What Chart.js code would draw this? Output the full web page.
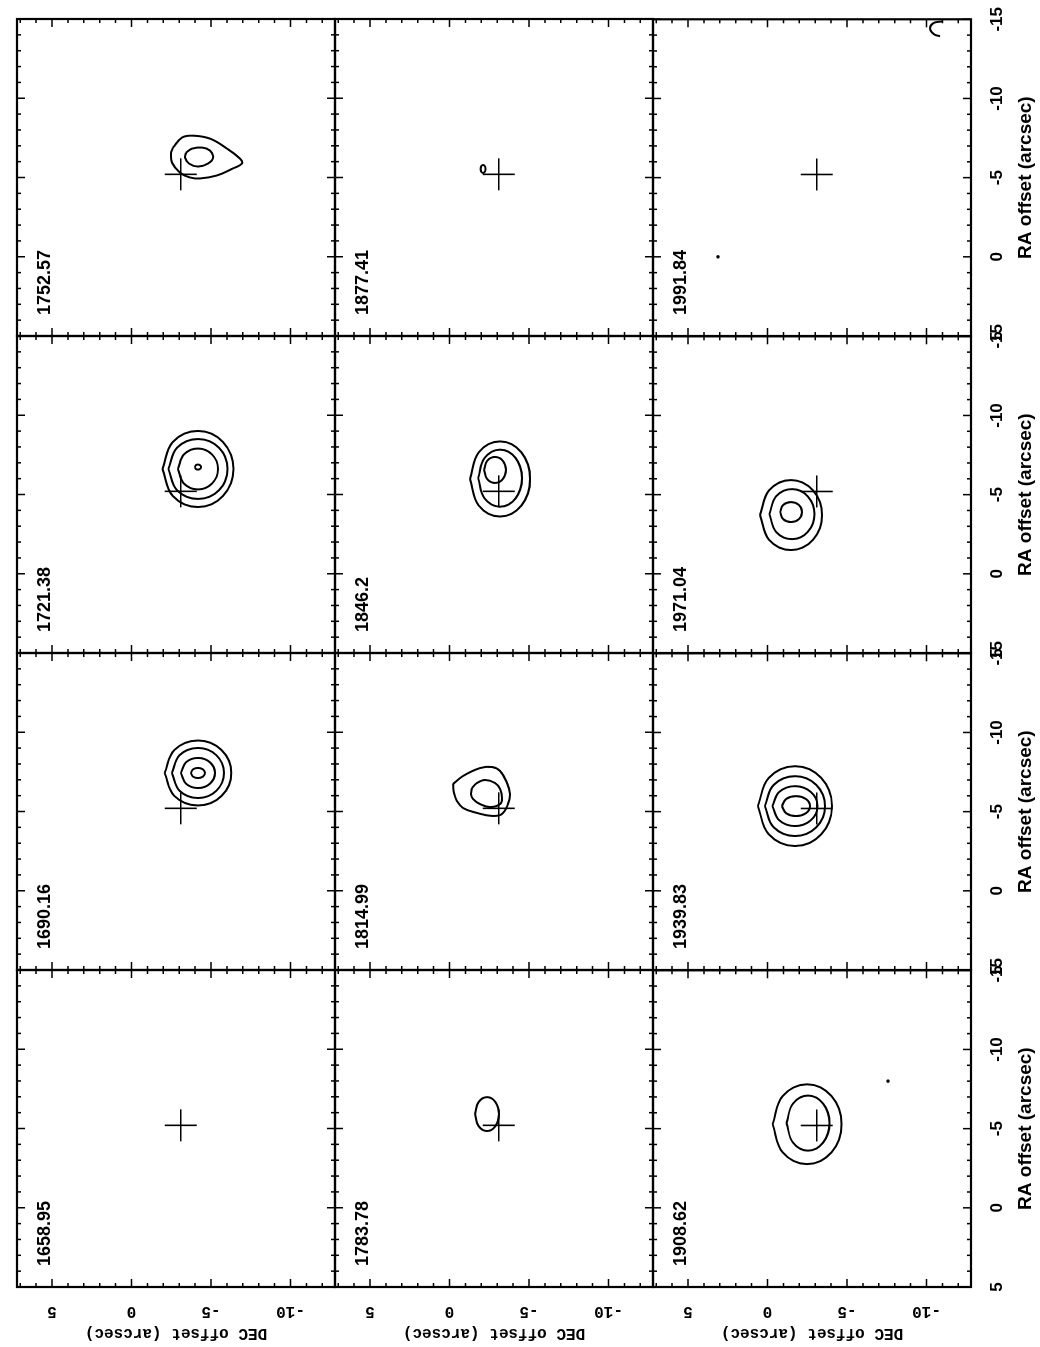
<!DOCTYPE html>
<html><head><meta charset="utf-8">
<script src="https://cdn.jsdelivr.net/npm/chart.js@4.4.0/dist/chart.umd.min.js"></script>
<style>
html,body{margin:0;padding:0;background:#fff;overflow:hidden;width:1040px;height:1347px;}
#page{position:absolute;left:0;top:0;width:1347px;height:1040px;transform-origin:0 0;transform:translate(0px,1347px) rotate(-90deg);background:#fff;}
#page canvas{position:absolute;}
</style></head><body><div id="page"></div>
<script>
// ---------------- DATA ----------------
const channels = ['1658.95','1690.16','1721.38','1752.57','1783.78','1814.99','1846.2','1877.41','1908.62','1939.83','1971.04','1991.84'];
const raTickLabels = [5, 0, -5, -10, -15];
const decTickLabels = [5, 0, -5, -10];
const sourceRA = [-5.2];
const sourceDEC = [-3.1];

// contours: arrays of [RA offset, DEC offset] (arcsec)
const c1658_95 = [];
const c1690_16 = [
  [[-7.43,-2.08],[-5.98,-2.70],[-5.38,-4.18],[-5.98,-5.66],[-7.43,-6.28],[-8.88,-5.66],[-9.48,-4.18],[-8.88,-2.70]],
  [[-7.43,-2.54],[-6.31,-3.02],[-5.85,-4.18],[-6.31,-5.34],[-7.43,-5.82],[-8.55,-5.34],[-9.01,-4.18],[-8.55,-3.02]],
  [[-7.43,-3.11],[-6.76,-3.42],[-6.48,-4.18],[-6.76,-4.94],[-7.43,-5.25],[-8.10,-4.94],[-8.38,-4.18],[-8.10,-3.42]],
  [[-7.43,-3.74],[-7.20,-3.87],[-7.11,-4.18],[-7.20,-4.49],[-7.43,-4.62],[-7.66,-4.49],[-7.75,-4.18],[-7.66,-3.87]]
];
const c1721_38 = [
  [[-6.61,-1.95],[-4.91,-2.60],[-4.21,-4.18],[-4.91,-5.76],[-6.61,-6.41],[-8.31,-5.76],[-9.01,-4.18],[-8.31,-2.60]],
  [[-6.61,-2.32],[-5.27,-2.86],[-4.72,-4.18],[-5.27,-5.50],[-6.61,-6.04],[-7.95,-5.50],[-8.50,-4.18],[-7.95,-2.86]],
  [[-6.61,-2.92],[-5.70,-3.29],[-5.32,-4.18],[-5.70,-5.07],[-6.61,-5.44],[-7.52,-5.07],[-7.90,-4.18],[-7.52,-3.29]],
  [[-6.73,-3.98],[-6.62,-4.04],[-6.57,-4.18],[-6.62,-4.32],[-6.73,-4.38],[-6.84,-4.32],[-6.89,-4.18],[-6.84,-4.04]]
];
const c1752_57 = [
  [[-6.89,-2.61],[-7.52,-3.18],[-7.64,-3.87],[-7.45,-4.94],[-6.82,-6.01],[-6.19,-6.83],[-5.88,-6.95],[-5.57,-6.38],[-5.13,-5.38],[-4.94,-4.31],[-5.00,-3.68],[-5.31,-3.05],[-5.94,-2.55],[-6.51,-2.49]],
  [[-6.57,-3.43],[-6.82,-3.81],[-6.89,-4.44],[-6.70,-4.94],[-6.26,-5.13],[-5.88,-4.81],[-5.69,-4.18],[-5.88,-3.62],[-6.26,-3.37]]
];
const c1783_78 = [
  [[-5.91,-1.61],[-5.15,-1.83],[-4.84,-2.36],[-5.15,-2.89],[-5.91,-3.11],[-6.67,-2.89],[-6.98,-2.36],[-6.67,-1.83]]
];
const c1814_99 = [
  [[-6.73,-0.22],[-7.24,-0.85],[-7.74,-1.92],[-7.81,-2.67],[-7.56,-3.18],[-6.80,-3.62],[-6.10,-3.81],[-5.47,-3.68],[-4.84,-3.30],[-4.72,-2.67],[-4.91,-1.73],[-5.22,-0.85],[-5.66,-0.47],[-6.17,-0.28]],
  [[-6.48,-1.42],[-6.80,-1.73],[-6.99,-2.23],[-6.80,-2.86],[-6.42,-3.18],[-5.85,-3.30],[-5.47,-3.18],[-5.28,-2.55],[-5.47,-1.92],[-5.79,-1.48],[-6.10,-1.35]]
];
const c1846_2 = [
  [[-5.98,-1.29],[-4.30,-1.84],[-3.61,-3.18],[-4.30,-4.52],[-5.98,-5.07],[-7.66,-4.52],[-8.35,-3.18],[-7.66,-1.84]],
  [[-6.03,-1.80],[-4.76,-2.20],[-4.23,-3.18],[-4.76,-4.16],[-6.03,-4.56],[-7.30,-4.16],[-7.83,-3.18],[-7.30,-2.20]],
  [[-6.55,-2.17],[-5.97,-2.37],[-5.73,-2.86],[-5.97,-3.35],[-6.55,-3.55],[-7.13,-3.35],[-7.37,-2.86],[-7.13,-2.37]]
];
const c1877_41 = [
  [[-5.54,-1.95],[-5.36,-2.00],[-5.29,-2.11],[-5.36,-2.22],[-5.54,-2.27],[-5.72,-2.22],[-5.79,-2.11],[-5.72,-2.00]]
];
const c1908_62 = [
  [[-5.28,-0.32],[-3.50,-0.96],[-2.76,-2.49],[-3.50,-4.02],[-5.28,-4.66],[-7.06,-4.02],[-7.80,-2.49],[-7.06,-0.96]],
  [[-5.35,-1.20],[-4.12,-1.60],[-3.61,-2.55],[-4.12,-3.50],[-5.35,-3.90],[-6.58,-3.50],[-7.09,-2.55],[-6.58,-1.60]]
];
const c1939_83 = [
  [[-5.35,0.60],[-3.57,-0.08],[-2.83,-1.73],[-3.57,-3.38],[-5.35,-4.06],[-7.13,-3.38],[-7.87,-1.73],[-7.13,-0.08]],
  [[-5.35,0.16],[-4.01,-0.39],[-3.46,-1.73],[-4.01,-3.07],[-5.35,-3.62],[-6.69,-3.07],[-7.24,-1.73],[-6.69,-0.39]],
  [[-5.35,-0.31],[-4.46,-0.73],[-4.09,-1.73],[-4.46,-2.73],[-5.35,-3.15],[-6.24,-2.73],[-6.61,-1.73],[-6.24,-0.73]],
  [[-5.35,-0.91],[-4.90,-1.17],[-4.72,-1.79],[-4.90,-2.41],[-5.35,-2.67],[-5.80,-2.41],[-5.98,-1.79],[-5.80,-1.17]]
];
const c1971_04 = [
  [[-3.71,0.47],[-2.15,-0.10],[-1.50,-1.48],[-2.15,-2.86],[-3.71,-3.43],[-5.27,-2.86],[-5.92,-1.48],[-5.27,-0.10]],
  [[-3.77,-0.12],[-2.65,-0.54],[-2.19,-1.54],[-2.65,-2.54],[-3.77,-2.96],[-4.89,-2.54],[-5.35,-1.54],[-4.89,-0.54]],
  [[-3.90,-0.79],[-3.45,-0.99],[-3.27,-1.48],[-3.45,-1.97],[-3.90,-2.17],[-4.35,-1.97],[-4.53,-1.48],[-4.35,-0.99]]
];
const c1991_84 = [];
// open contour fragments
const arc1991_84 = [[-14.87,-10.98],[-14.75,-10.42],[-14.37,-10.23],[-14.05,-10.48],[-13.93,-10.85]];
// isolated tiny peaks
const dots1908_62 = [[-8.0,-7.58]];
const dots1991_84 = [[0.0,3.11]];

const panelContours = [c1658_95,c1690_16,c1721_38,c1752_57,c1783_78,c1814_99,c1846_2,c1877_41,c1908_62,c1939_83,c1971_04,c1991_84];
const panelArcs = [[],[],[],[],[],[],[],[],[],[],[],[arc1991_84]];
const panelDots = [[],[],[],[],[],[],[],[],dots1908_62,[],[],dots1991_84];

// ---------------- LAYOUT ----------------
const RA_MIN = -15, RA_MAX = 5, DEC_MIN = -12.8, DEC_MAX = 7.2;
const X0 = 60, Y0 = 17, PW = 317, PH = 318, PAD = 20, ML = 60, MB = 70;

const framePlugin = {
  id: 'frame',
  afterDatasetsDraw(chart, args, opts) {
    const {ctx, chartArea: a, scales: {x, y}} = chart;
    ctx.save();
    ctx.strokeStyle = '#000';
    ctx.lineWidth = 2.2;
    ctx.strokeRect(a.left, a.top, a.right - a.left, a.bottom - a.top);
    ctx.lineWidth = 1.5;
    ctx.beginPath();
    for (let v = Math.ceil(RA_MIN); v <= RA_MAX; v++) {
      const px = x.getPixelForValue(v);
      const L = (v % 5 === 0) ? 8 : 4;
      ctx.moveTo(px, a.top); ctx.lineTo(px, a.top + L);
      ctx.moveTo(px, a.bottom); ctx.lineTo(px, a.bottom - L);
    }
    for (let v = Math.ceil(DEC_MIN); v <= DEC_MAX; v++) {
      const py = y.getPixelForValue(v);
      const L = (v % 5 === 0) ? 8 : 4;
      ctx.moveTo(a.left, py); ctx.lineTo(a.left + L, py);
      ctx.moveTo(a.right, py); ctx.lineTo(a.right - L, py);
    }
    ctx.stroke();
    ctx.fillStyle = '#000';
    ctx.font = 'bold 18px "Liberation Sans"';
    ctx.textBaseline = 'alphabetic';
    ctx.textAlign = 'left';
    ctx.fillText(opts.text, a.left + 21, a.top + 33);
    ctx.restore();
  }
};

const page = document.getElementById('page');
for (let i = 0; i < 3; i++) {
  for (let j = 0; j < 4; j++) {
    const k = i * 4 + j;
    const showY = (j === 0), showX = (i === 2);
    const ml = showY ? ML : 0, mb = showX ? MB : 0;
    const cv = document.createElement('canvas');
    const w = PW + ml + 2 * PAD, h = PH + mb + 2 * PAD;
    cv.width = w; cv.height = h;
    cv.style.width = w + 'px'; cv.style.height = h + 'px';
    cv.style.left = (X0 + PW * j - ml - PAD) + 'px';
    cv.style.top = (Y0 + PH * i - PAD) + 'px';
    page.appendChild(cv);

    const datasets = [];
    panelContours[k].forEach(c => {
      datasets.push({data: c.concat([c[0]]).map(p => ({x: p[0], y: p[1]})), showLine: true, pointRadius: 0,
        borderColor: '#000', borderWidth: 2, tension: 0.4, fill: false});
    });
    panelArcs[k].forEach(c => {
      datasets.push({data: c.map(p => ({x: p[0], y: p[1]})), showLine: true, pointRadius: 0,
        borderColor: '#000', borderWidth: 2, tension: 0.4, fill: false});
    });
    if (panelDots[k].length) {
      datasets.push({data: panelDots[k].map(p => ({x: p[0], y: p[1]})), pointRadius: 1.8, pointStyle: 'circle',
        backgroundColor: '#000', borderColor: '#000', borderWidth: 0});
    }
    datasets.push({data: sourceRA.map((r, n) => ({x: r, y: sourceDEC[n]})), pointStyle: 'cross', pointRadius: 16,
      borderColor: '#000', borderWidth: 1.6});

    new Chart(cv, {
      type: 'scatter',
      data: {datasets},
      options: {
        responsive: false, animation: false, devicePixelRatio: 1, events: [],
        layout: {padding: PAD},
        plugins: {legend: {display: false}, tooltip: {enabled: false}, frame: {text: channels[k]}},
        scales: {
          x: {
            type: 'linear', min: RA_MIN, max: RA_MAX, reverse: true, display: showX, position: 'bottom',
            grid: {display: false}, border: {display: false},
            afterBuildTicks: s => { s.ticks = raTickLabels.map(v => ({value: v})); },
            ticks: {autoSkip: false, maxRotation: 0, minRotation: 0, color: '#000', padding: 8,
              font: {family: 'Liberation Sans', weight: 'bold', size: 17}},
            title: {display: true, text: 'RA offset (arcsec)', color: '#000', padding: {top: 0, bottom: 4},
              font: {family: 'Liberation Sans', weight: 'bold', size: 19}},
            afterFit: s => { s.height = showX ? MB : 0; }
          },
          y: {
            type: 'linear', min: DEC_MIN, max: DEC_MAX, display: showY, position: 'left',
            grid: {display: false}, border: {display: false},
            afterBuildTicks: s => { s.ticks = decTickLabels.map(v => ({value: v})); },
            ticks: {autoSkip: false, minRotation: 90, maxRotation: 90, crossAlign: 'center', color: '#000', padding: 2,
              font: {family: 'Liberation Mono', weight: 'bold', size: 16}},
            title: {display: true, text: 'DEC offset (arcsec)', color: '#000', padding: {top: 4, bottom: 0},
              font: {family: 'Liberation Mono', weight: 'bold', size: 16}},
            afterFit: s => { s.width = showY ? ML : 0; }
          }
        }
      },
      plugins: [framePlugin]
    });
  }
}
</script>
</body></html>
